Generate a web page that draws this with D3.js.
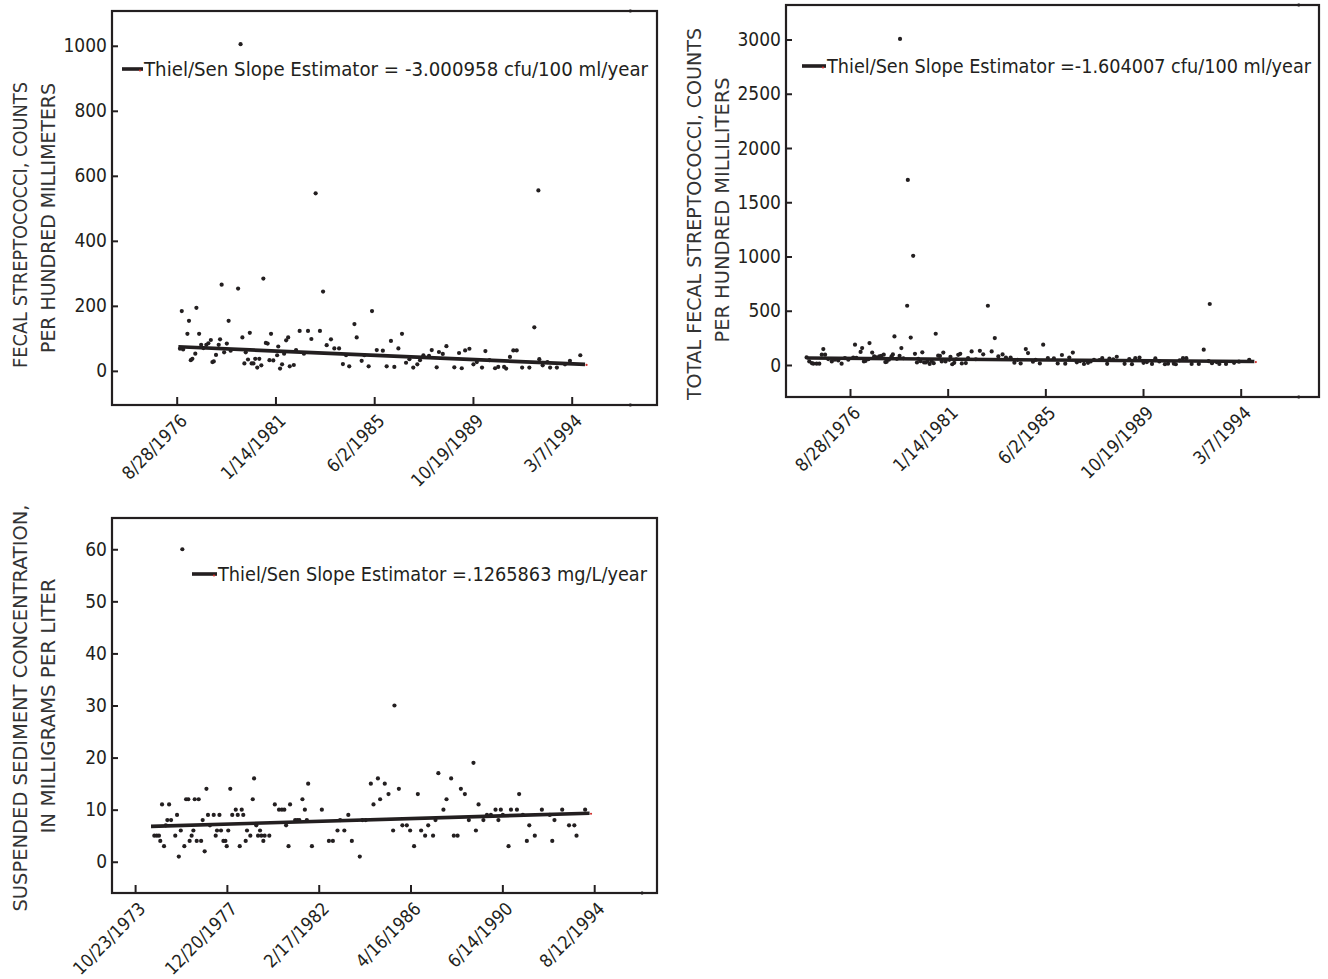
<!DOCTYPE html>
<html>
<head>
<meta charset="utf-8">
<script src="https://cdn.jsdelivr.net/npm/d3@7"></script>
<style>
  body { margin: 0; background: #fff; }
  svg { display: block; }
  .tick text {
    font-family: "DejaVu Sans Condensed", "Liberation Sans Narrow", "Liberation Sans", sans-serif;
    font-stretch: condensed; font-size: 19px; fill: #231f20;
  }
  .x-axis .tick text { font-size: 18px; }
  .tick line { stroke: #231f20; stroke-width: 2; }
  .ytitle, .legend-text {
    font-family: "DejaVu Sans Condensed", "Liberation Sans Narrow", "Liberation Sans", sans-serif;
    font-stretch: condensed;
  }
  .ytitle { font-size: 20px; fill: #333; }
  .legend-text { font-size: 20px; fill: #231f20; }
</style>
</head>
<body>
<svg id="chart" width="1328" height="979"></svg>
<script>
// ---- tick labels ----
const fecalDateTicks = ["8/28/1976", "1/14/1981", "6/2/1985", "10/19/1989", "3/7/1994"];
const sedimentDateTicks = ["10/23/1973", "12/20/1977", "2/17/1982", "4/16/1986", "6/14/1990", "8/12/1994"];
const fecalTicks = [0, 200, 400, 600, 800, 1000];
const totalTicks = [0, 500, 1000, 1500, 2000, 2500, 3000];
const sedimentTicks = [0, 10, 20, 30, 40, 50, 60];

// ---- fecal streptococci (cfu/100 ml), sample dates as decimal years ----
const fecalYears = [
  1976.80, 1976.88, 1976.94, 1977.13, 1977.20, 1977.28, 1977.35, 1977.48, 1977.53, 1977.65,
  1977.74, 1977.84, 1977.97, 1978.06, 1978.17, 1978.24, 1978.30, 1978.40, 1978.52, 1978.58,
  1978.65, 1978.76, 1978.88, 1978.96, 1979.05, 1979.38, 1979.49, 1979.57, 1979.66, 1979.72,
  1979.82, 1979.90, 1979.98, 1980.06, 1980.14, 1980.23, 1980.32, 1980.41, 1980.50, 1980.61,
  1980.69, 1980.77, 1980.84, 1980.94, 1981.11, 1981.16, 1981.24, 1981.33, 1981.42, 1981.51,
  1981.60, 1981.67, 1981.85, 1981.95, 1982.11, 1982.30, 1982.48, 1982.63, 1982.82, 1983.01,
  1983.15, 1983.31, 1983.50, 1983.65, 1983.86, 1984.03, 1984.17, 1984.31, 1984.54, 1984.64,
  1984.86, 1984.98, 1985.17, 1985.32, 1985.53, 1985.80, 1985.97, 1986.16, 1986.31, 1986.49,
  1986.65, 1986.83, 1986.98, 1987.15, 1987.33, 1987.45, 1987.60, 1987.85, 1987.97, 1988.19,
  1988.29, 1988.46, 1988.62, 1988.97, 1989.18, 1989.30, 1989.45, 1989.64, 1989.82, 1989.97,
  1990.20, 1990.35, 1990.53, 1990.78, 1990.92, 1991.18, 1991.27, 1991.44, 1991.59, 1991.74,
  1991.98, 1992.30, 1992.52, 1992.70, 1992.74, 1992.89, 1993.10, 1993.22, 1993.52, 1993.88,
  1994.10, 1994.56
];
const fecalValues = [
  68, 184, 66, 114, 154, 33, 37, 53, 194, 114,
  80, 70, 80, 85, 95, 27, 29, 49, 80, 97,
  265, 57, 84, 154, 62, 253, 1005, 103, 23, 57,
  35, 117, 23, 23, 37, 10, 37, 17, 284, 86,
  84, 33, 114, 32, 48, 75, 7, 20, 53, 94,
  103, 14, 18, 64, 123, 53, 123, 98, 546, 123,
  244, 79, 97, 69, 69, 21, 48, 14, 144, 103,
  31, 48, 14, 184, 64, 62, 14, 92, 12, 69,
  114, 25, 36, 10, 20, 33, 48, 46, 64, 11,
  58, 52, 76, 11, 55, 8, 63, 68, 20, 27,
  10, 61, 33, 8, 12, 12, 7, 43, 63, 63,
  10, 10, 134, 555, 36, 17, 27, 10, 10, 20,
  31, 48
];

// ---- total fecal streptococci (cfu/100 ml) ----
const totalYears = [
  1974.71, 1974.83, 1974.94, 1975.01, 1975.16, 1975.28, 1975.39, 1975.46, 1975.54, 1975.68,
  1975.84, 1975.98, 1976.13, 1976.28, 1976.43, 1976.58,
  1976.80, 1976.88, 1976.94, 1977.13, 1977.20, 1977.28, 1977.35, 1977.48, 1977.53, 1977.65,
  1977.74, 1977.84, 1977.97, 1978.06, 1978.17, 1978.24, 1978.30, 1978.40, 1978.52, 1978.58,
  1978.65, 1978.76, 1978.88, 1978.90, 1978.96, 1979.05, 1979.22, 1979.25, 1979.38, 1979.49,
  1979.57, 1979.66, 1979.72, 1979.82, 1979.90, 1979.98, 1980.06, 1980.14, 1980.23, 1980.32,
  1980.41, 1980.50, 1980.61, 1980.69, 1980.77, 1980.84, 1980.94, 1981.11, 1981.16, 1981.24,
  1981.33, 1981.42, 1981.51, 1981.60, 1981.67, 1981.85, 1981.95, 1982.11, 1982.30, 1982.48,
  1982.63, 1982.84, 1983.01, 1983.15, 1983.31, 1983.50, 1983.65, 1983.86, 1984.03, 1984.17,
  1984.31, 1984.54, 1984.64, 1984.86, 1984.98, 1985.17, 1985.32, 1985.53, 1985.80, 1985.97,
  1986.16, 1986.31, 1986.49, 1986.65, 1986.83, 1986.98, 1987.15, 1987.33, 1987.45, 1987.60,
  1987.85, 1987.97, 1988.19, 1988.29, 1988.46, 1988.62, 1988.97, 1989.18, 1989.30, 1989.45,
  1989.64, 1989.82, 1989.97, 1990.20, 1990.35, 1990.53, 1990.78, 1990.92, 1991.18, 1991.27,
  1991.44, 1991.59, 1991.74, 1991.98, 1992.30, 1992.52, 1992.79, 1992.74, 1992.89, 1993.10,
  1993.22, 1993.52, 1993.88, 1994.10, 1994.56
];
const totalValues = [
  70, 33, 18, 12, 12, 12, 95, 147, 95, 55,
  33, 49, 42, 12, 64, 49,
  68, 187, 66, 120, 156, 33, 37, 53, 202, 114,
  80, 70, 80, 85, 95, 27, 29, 49, 80, 97,
  263, 57, 84, 3005, 156, 62, 546, 1706, 253, 1006,
  103, 23, 57, 35, 117, 23, 23, 37, 10, 37,
  17, 288, 86, 84, 33, 114, 32, 48, 75, 7,
  20, 53, 94, 103, 14, 18, 64, 125, 53, 131,
  98, 546, 125, 248, 79, 97, 69, 69, 21, 48,
  14, 147, 110, 31, 48, 14, 187, 64, 62, 14,
  92, 12, 69, 114, 25, 36, 10, 20, 33, 48,
  46, 64, 11, 58, 52, 76, 11, 55, 8, 63,
  68, 20, 27, 10, 61, 33, 8, 12, 12, 7,
  43, 63, 63, 10, 10, 141, 562, 36, 17, 27,
  10, 10, 20, 31, 48
];

// ---- suspended sediment concentration (mg/L) ----
const sedimentYears = [
  1974.68, 1974.79, 1974.89, 1974.95, 1975.03, 1975.12, 1975.20, 1975.27, 1975.35, 1975.44,
  1975.63, 1975.71, 1975.79, 1975.88, 1975.95, 1976.04, 1976.12, 1976.22, 1976.28, 1976.37,
  1976.45, 1976.51, 1976.60, 1976.69, 1976.80, 1976.87, 1976.96, 1977.04, 1977.11, 1977.20,
  1977.37, 1977.46, 1977.52, 1977.63, 1977.70, 1977.81, 1977.90, 1977.96, 1978.03, 1978.12,
  1978.21, 1978.37, 1978.46, 1978.55, 1978.64, 1978.71, 1978.82, 1978.88, 1979.03, 1979.14,
  1979.20, 1979.30, 1979.38, 1979.47, 1979.53, 1979.62, 1979.68, 1979.89, 1980.14, 1980.33,
  1980.46, 1980.57, 1980.65, 1980.76, 1980.83, 1981.06, 1981.16, 1981.25, 1981.39, 1981.50,
  1981.59, 1981.65, 1981.82, 1982.27, 1982.59, 1982.77, 1982.98, 1983.10, 1983.29, 1983.47,
  1983.63, 1983.99, 1984.11, 1984.26, 1984.49, 1984.61, 1984.81, 1984.91, 1985.12, 1985.29,
  1985.50, 1985.56, 1985.76, 1985.92, 1986.12, 1986.27, 1986.45, 1986.62, 1986.77, 1986.95,
  1987.09, 1987.31, 1987.42, 1987.55, 1987.78, 1987.92, 1988.13, 1988.25, 1988.42, 1988.57,
  1988.75, 1988.93, 1989.14, 1989.25, 1989.37, 1989.59, 1989.75, 1989.93, 1990.14, 1990.27,
  1990.38, 1990.47, 1990.73, 1990.84, 1991.11, 1991.21, 1991.38, 1991.56, 1991.67, 1991.92,
  1992.24, 1992.60, 1992.71, 1992.81, 1993.16, 1993.47, 1993.71, 1993.81, 1994.20
];
const sedimentValues = [
  5, 5, 5, 4, 11, 3, 7, 8, 11, 8,
  5, 9, 1, 6, 60, 3, 12, 12, 4, 5,
  6, 12, 4, 12, 4, 8, 2, 14, 9, 7,
  9, 5, 6, 9, 6, 4, 4, 3, 6, 14,
  9, 10, 9, 3, 10, 9, 4, 6, 5, 12,
  16, 7, 5, 6, 5, 4, 5, 5, 11, 10,
  10, 10, 7, 3, 11, 8, 8, 8, 12, 10,
  8, 15, 3, 10, 4, 4, 6, 8, 6, 9,
  4, 1, 8, 8, 15, 11, 16, 12, 15, 13,
  6, 30, 14, 7, 7, 6, 3, 13, 6, 5,
  7, 5, 8, 17, 10, 12, 16, 5, 5, 14,
  13, 8, 19, 6, 11, 8, 9, 9, 10, 8,
  10, 9, 3, 10, 10, 13, 9, 4, 7, 5,
  10, 9, 4, 8, 10, 7, 7, 5, 10
];

// ---- Thiel/Sen trend estimates ----
const fecalSlope = "-3.000958";      // cfu/100 ml per year
const totalSlope = "-1.604007";      // cfu/100 ml per year
const sedimentSlope = ".1265863";    // mg/L per year
const fecalTrendSpan = [1976.73, 1994.77];
const totalTrendSpan = [1974.72, 1994.79];
const sedimentTrendSpan = [1974.53, 1994.40];
const fecalTrendStart = 74;
const totalTrendStart = 64;
const sedimentTrendStart = 6.8;

// ---- helpers ----
const ink = "#231f20";
const parseTick = d3.timeParse("%m/%d/%Y");
const fmtTick = d3.timeFormat("%-m/%-d/%Y");
function yearToDate(y) {
  const yr = Math.floor(y);
  const a = new Date(yr, 0, 1), b = new Date(yr + 1, 0, 1);
  return new Date(+a + (y - yr) * (b - a));
}

const svg = d3.select("#chart");

function drawPanel(p) {
  const g = svg.append("g");
  const tickDates = p.dateTicks.map(parseTick);
  const x = d3.scaleTime()
    .domain([tickDates[0], tickDates[tickDates.length - 1]])
    .range(p.tickRange);
  const y = d3.scaleLinear().domain(p.yDomain).range([p.bottom, p.top]);

  // y axis (ticks pointing into the plot)
  const ya = g.append("g").attr("transform", `translate(${p.left},0)`)
    .call(d3.axisLeft(y).tickValues(p.yTicks).tickSize(-6).tickPadding(5).tickFormat(d3.format("d")));
  ya.select(".domain").remove();

  // x axis with rotated date labels
  const xa = g.append("g").attr("class", "x-axis").attr("transform", `translate(0,${p.bottom})`)
    .call(d3.axisBottom(x).tickValues(tickDates).tickSize(-8).tickFormat(fmtTick));
  xa.select(".domain").remove();
  xa.selectAll(".tick text")
    .attr("x", 0).attr("y", 0).attr("dy", 0)
    .attr("text-anchor", "end")
    .attr("transform", "translate(11,17) rotate(-45)");

  // plot frame
  g.append("rect")
    .attr("x", p.left).attr("y", p.top)
    .attr("width", p.right - p.left).attr("height", p.bottom - p.top)
    .attr("fill", "none").attr("stroke", ink).attr("stroke-width", 2.2);

  // small end-of-record marks on the frame
  const endX = x(yearToDate(1996.78));
  p.endMarks.forEach(edge => {
    const yy = edge === "top" ? p.top : p.bottom;
    g.append("rect").attr("x", endX - 1).attr("y", yy - 1.5)
      .attr("width", 2).attr("height", 3).attr("fill", ink);
  });

  // samples
  g.append("g").selectAll("circle")
    .data(d3.zip(p.years, p.values))
    .join("circle")
    .attr("cx", d => x(yearToDate(d[0])))
    .attr("cy", d => y(d[1]))
    .attr("r", 2.1)
    .attr("fill", ink);

  // Thiel/Sen trend line from the stated slope
  const slope = +p.slope;
  const [t0, t1] = p.trendSpan;
  const v0 = p.trendStart, v1 = p.trendStart + slope * (t1 - t0);
  g.append("line")
    .attr("x1", x(yearToDate(t0))).attr("y1", y(v0))
    .attr("x2", x(yearToDate(t1))).attr("y2", y(v1))
    .attr("stroke", ink).attr("stroke-width", 3.6);
  g.append("circle").attr("cx", x(yearToDate(t1)) + 1.5).attr("cy", y(v1) + 0.5)
    .attr("r", 1.1).attr("fill", "#d0312d");

  // legend
  const L = p.legend;
  g.append("line").attr("x1", L.x0).attr("x2", L.x1).attr("y1", L.y).attr("y2", L.y)
    .attr("stroke", ink).attr("stroke-width", 3.6);
  g.append("circle").attr("cx", L.x1 - 3).attr("cy", L.y + 1.5).attr("r", 1.1).attr("fill", "#d0312d");
  g.append("text").attr("class", "legend-text")
    .attr("x", L.x1 + 1).attr("y", L.y + 7)
    .attr("textLength", L.len).attr("lengthAdjust", "spacingAndGlyphs")
    .text(p.legendLabel);

  // y axis title (two lines)
  p.titles.forEach(t => {
    g.append("text").attr("class", "ytitle")
      .attr("text-anchor", "middle")
      .attr("transform", `translate(${t.x},${t.cy}) rotate(-90)`)
      .attr("textLength", t.len).attr("lengthAdjust", "spacingAndGlyphs")
      .text(t.text);
  });
}

drawPanel({
  left: 112, right: 657, top: 11, bottom: 405,
  tickRange: [176.7, 571.7], dateTicks: fecalDateTicks,
  yDomain: [-105, 1107], yTicks: fecalTicks,
  years: fecalYears, values: fecalValues,
  slope: fecalSlope, trendSpan: fecalTrendSpan, trendStart: fecalTrendStart,
  legend: { x0: 122, x1: 143, y: 69, len: 504 },
  legendLabel: `Thiel/Sen Slope Estimator = ${fecalSlope} cfu/100 ml/year`,
  endMarks: ["top", "bottom"],
  titles: [
    { text: "FECAL STREPTOCOCCI, COUNTS", x: 27, cy: 225, len: 286 },
    { text: "PER HUNDRED MILLIMETERS", x: 55, cy: 218, len: 270 }
  ]
});

drawPanel({
  left: 786, right: 1319, top: 5, bottom: 397,
  tickRange: [850, 1240.7], dateTicks: fecalDateTicks,
  yDomain: [-295, 3318], yTicks: totalTicks,
  years: totalYears, values: totalValues,
  slope: totalSlope, trendSpan: totalTrendSpan, trendStart: totalTrendStart,
  legend: { x0: 802, x1: 826, y: 66, len: 484 },
  legendLabel: `Thiel/Sen Slope Estimator =${totalSlope} cfu/100 ml/year`,
  endMarks: ["top", "bottom"],
  titles: [
    { text: "TOTAL FECAL STREPTOCOCCI, COUNTS", x: 701, cy: 214, len: 372 },
    { text: "PER HUNDRED MILLILITERS", x: 729, cy: 210, len: 265 }
  ]
});

drawPanel({
  left: 112, right: 657, top: 518, bottom: 893,
  tickRange: [135.1, 594.2], dateTicks: sedimentDateTicks,
  yDomain: [-6, 66], yTicks: sedimentTicks,
  years: sedimentYears, values: sedimentValues,
  slope: sedimentSlope, trendSpan: sedimentTrendSpan, trendStart: sedimentTrendStart,
  legend: { x0: 192, x1: 217, y: 574, len: 429 },
  legendLabel: `Thiel/Sen Slope Estimator =${sedimentSlope} mg/L/year`,
  endMarks: ["bottom"],
  titles: [
    { text: "SUSPENDED SEDIMENT CONCENTRATION,", x: 27, cy: 708, len: 407 },
    { text: "IN MILLIGRAMS PER LITER", x: 55, cy: 706, len: 255 }
  ]
});
</script>
</body>
</html>
